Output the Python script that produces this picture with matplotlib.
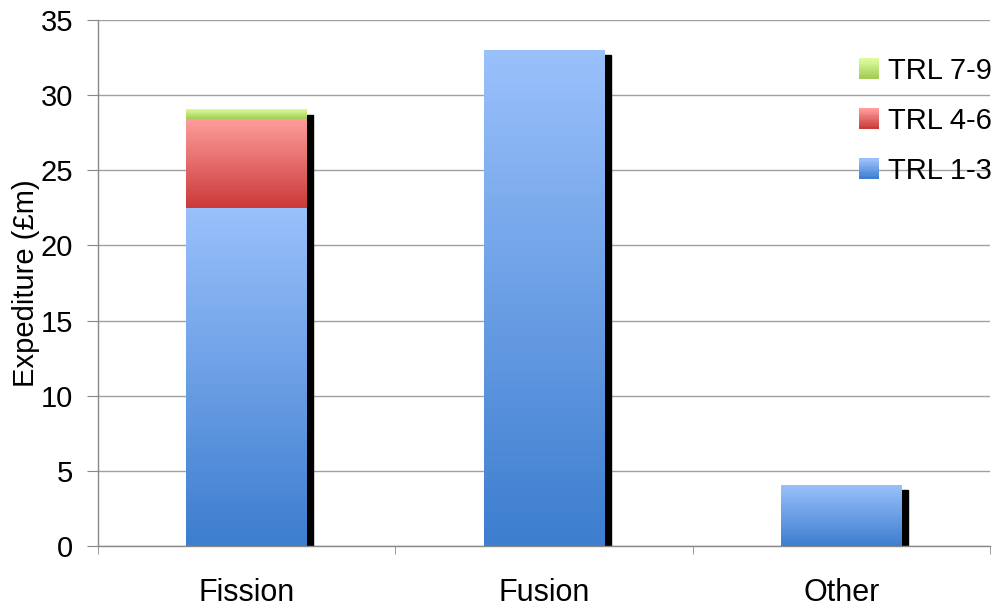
import numpy as np
import matplotlib
matplotlib.use('Agg')
import matplotlib.pyplot as plt
from matplotlib.patches import Rectangle
from matplotlib.colors import LinearSegmentedColormap
from matplotlib.legend_handler import HandlerBase

categories = ['Fission', 'Fusion', 'Other']
trl_1_3 = [22.5, 33.0, 4.05]
trl_4_6 = [5.9, 0.0, 0.0]
trl_7_9 = [0.6, 0.0, 0.0]

series = [('TRL 1-3', trl_1_3, ('#99c0fb', '#3d7ecf')),
          ('TRL 4-6', trl_4_6, ('#fd9c9b', '#cc3a3a')),
          ('TRL 7-9', trl_7_9, ('#dcfb9c', '#a4cc55'))]

plt.rcParams['font.family'] = ['Liberation Sans', 'DejaVu Sans']

fig = plt.figure(figsize=(10.03, 6.1), dpi=100)
ax = fig.add_axes([98/1003, 64/610, 892/1003, 526/610])

x = np.arange(len(categories))
width = 0.405
grad = np.linspace(1, 0, 64).reshape(-1, 1)

totals = np.sum([s[1] for s in series], axis=0)
# shadow on the right
for xi, t in zip(x, totals):
    ax.add_patch(Rectangle((xi + width/2, 0), 0.022, t - 0.3, color='black', zorder=2))

bottom = np.zeros(len(categories))
for name, vals, (c_top, c_bot) in series:
    cmap = LinearSegmentedColormap.from_list(name, [c_bot, c_top])
    for xi, b, v in zip(x, bottom, vals):
        if v <= 0:
            continue
        ax.imshow(grad, cmap=cmap, vmin=0, vmax=1, aspect='auto', interpolation='bilinear',
                  extent=(xi - width/2, xi + width/2, b, b + v), zorder=3)
    bottom += np.array(vals)


class GradHandler(HandlerBase):
    def __init__(self, c_top, c_bot):
        super().__init__()
        self.c_top = c_top
        self.c_bot = c_bot

    def create_artists(self, legend, orig_handle, xdescent, ydescent, width, height, fontsize, trans):
        cmap = LinearSegmentedColormap.from_list('h', [self.c_bot, self.c_top])
        n = 12
        arts = []
        for i in range(n):
            r = Rectangle((-xdescent, -ydescent + height * i / n), width, height / n + 0.3,
                          facecolor=cmap(i / (n - 1)), edgecolor='none', transform=trans)
            arts.append(r)
        return arts


handles = []
hmap = {}
for name, vals, (c_top, c_bot) in series[::-1]:
    h = Rectangle((0, 0), 1, 1, label=name)
    handles.append(h)
    hmap[h] = GradHandler(c_top, c_bot)

ax.legend(handles=handles, handler_map=hmap, loc='upper left', bbox_to_anchor=(0.853, 0.93),
          frameon=False, fontsize=21, handlelength=0.69, handleheight=0.69,
          handletextpad=0.31, labelspacing=0.76, borderaxespad=0, borderpad=0)

ax.set_xlim(-0.5, 2.5)
ax.set_ylim(0, 35)
ax.set_yticks(np.arange(0, 36, 5))
ax.set_xticks(x)
ax.set_xticklabels(categories, fontsize=22)
ax.set_xticks(np.arange(-0.5, 2.6, 1), minor=True)
ax.tick_params(axis='x', which='major', length=0, pad=23)
ax.tick_params(axis='x', which='minor', length=6, color='#888888', direction='out')
ax.tick_params(axis='y', length=8, color='#888888', labelsize=21, pad=10)
ax.grid(axis='y', color='#a0a0a0', linewidth=1.0, zorder=0)
ax.set_axisbelow(True)
for s in ['top', 'right']:
    ax.spines[s].set_visible(False)
for s in ['left', 'bottom']:
    ax.spines[s].set_color('#888888')
    ax.spines[s].set_linewidth(1.0)

ax.set_ylabel('Expediture (£m)', fontsize=21)
ax.yaxis.set_label_coords(-0.065, 0.5)

fig.savefig('out.png', dpi=100)
